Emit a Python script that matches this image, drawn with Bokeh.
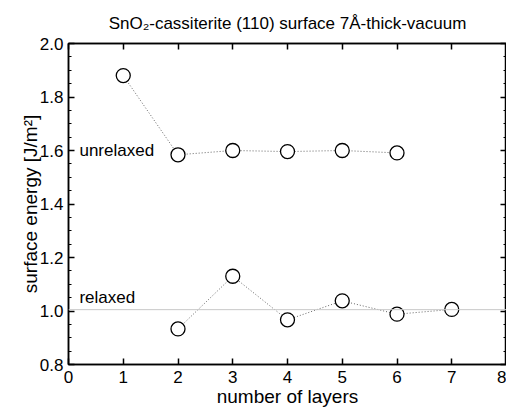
from bokeh.plotting import figure
from bokeh.models import Range1d, FixedTicker, LinearAxis, NumeralTickFormatter, Span, Label
from bokeh.embed import file_html
from bokeh.resources import INLINE

layers_unrelaxed = [1, 2, 3, 4, 5, 6]
energy_unrelaxed = [1.880, 1.584, 1.600, 1.596, 1.600, 1.591]
layers_relaxed = [2, 3, 4, 5, 6, 7]
energy_relaxed = [0.933, 1.130, 0.967, 1.038, 0.988, 1.006]
reference_level = 1.005
x_ticks = [0, 1, 2, 3, 4, 5, 6, 7, 8]
y_ticks = [0.8, 1.0, 1.2, 1.4, 1.6, 1.8, 2.0]
y_minor = [round(0.8 + 0.05 * i, 2) for i in range(25)]

FONT = "Liberation Sans"

p = figure(width=506, height=410, output_backend="svg", toolbar_location=None,
           x_range=Range1d(0, 8), y_range=Range1d(0.8, 2.0),
           title="SnO\u2082-cassiterite (110) surface 7\u00c5-thick-vacuum",
           min_border_left=68, min_border_right=0, min_border_top=43, min_border_bottom=46)
p.title.align = "center"
p.title.text_font = FONT
p.title.text_font_size = "17px"
p.title.text_font_style = "normal"
p.title.text_color = "black"
p.title.offset = 0
p.title.standoff = 22

p.grid.visible = False
p.outline_line_color = "black"
p.outline_line_width = 1.5
p.background_fill_color = "white"
p.border_fill_color = "white"


def style(ax):
    ax.axis_line_color = "black"
    ax.axis_line_width = 1.5
    ax.major_tick_in = 6
    ax.major_tick_out = 0
    ax.minor_tick_in = 3
    ax.minor_tick_out = 0
    ax.major_tick_line_width = 1.5
    ax.minor_tick_line_width = 1.2
    ax.major_tick_line_color = "black"
    ax.minor_tick_line_color = "black"
    ax.major_label_text_font = FONT
    ax.major_label_text_font_size = "17px"
    ax.major_label_text_color = "black"
    ax.axis_label_text_font = FONT
    ax.axis_label_text_font_size = "19px"
    ax.axis_label_text_font_style = "normal"
    ax.axis_label_text_color = "black"


xa = p.xaxis[0]
xa.ticker = FixedTicker(ticks=x_ticks)
style(xa)
xa.axis_label = "number of layers"
xa.major_label_standoff = 6
xa.axis_label_standoff = 0

ya = p.yaxis[0]
ya.ticker = FixedTicker(ticks=y_ticks, minor_ticks=y_minor)
ya.formatter = NumeralTickFormatter(format="0.0")
style(ya)
ya.axis_label = "surface energy [J/m\u00b2]"
ya.major_label_standoff = 5
ya.axis_label_standoff = -4

# mirrored tick marks on top and right (no labels)
top = LinearAxis(ticker=FixedTicker(ticks=[], minor_ticks=x_ticks))
style(top)
top.minor_tick_in = 6
top.minor_tick_line_width = 1.5
top.major_label_standoff = 0
p.add_layout(top, "above")

right_minor = LinearAxis(ticker=FixedTicker(ticks=[], minor_ticks=y_minor))
style(right_minor)
right_minor.major_label_standoff = 0
p.add_layout(right_minor, "right")

right_major = LinearAxis(ticker=FixedTicker(ticks=[], minor_ticks=y_ticks))
style(right_major)
right_major.minor_tick_in = 6
right_major.minor_tick_line_width = 1.5
right_major.major_label_standoff = 0
p.add_layout(right_major, "right")

p.add_layout(Span(location=reference_level, dimension="width", line_color="#c8c8c8", line_width=1))

p.line(layers_unrelaxed, energy_unrelaxed, line_color="#666666", line_dash="1 2", line_width=1)
p.line(layers_relaxed, energy_relaxed, line_color="#666666", line_dash="1 2", line_width=1)
p.scatter(layers_unrelaxed, energy_unrelaxed, size=14, fill_color="white", line_color="black", line_width=1.3)
p.scatter(layers_relaxed, energy_relaxed, size=14, fill_color="white", line_color="black", line_width=1.3)

p.add_layout(Label(x=0.2, y=1.6, text="unrelaxed", text_font=FONT, text_font_size="17px",
                   text_baseline="middle", text_color="black"))
p.add_layout(Label(x=0.2, y=1.05, text="relaxed", text_font=FONT, text_font_size="17px",
                   text_baseline="middle", text_color="black"))

open("out.html", "w").write(file_html(p, INLINE))
